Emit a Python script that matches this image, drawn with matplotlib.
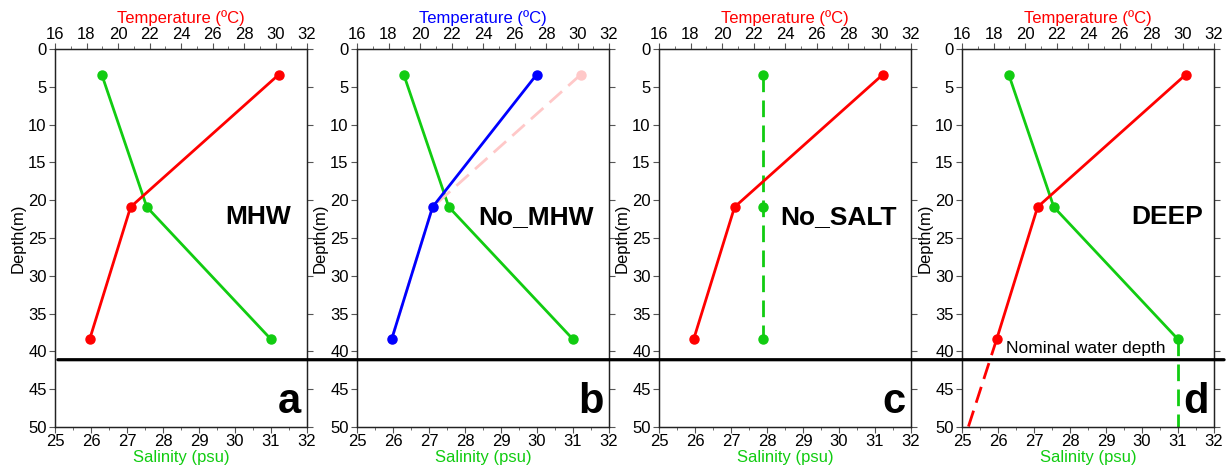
import matplotlib
matplotlib.use("Agg")
import matplotlib.pyplot as plt
from matplotlib.patches import ConnectionPatch
from matplotlib.ticker import MultipleLocator

plt.rcParams['font.family'] = ['Liberation Sans', 'DejaVu Sans']

# data
depth = [3.4, 20.9, 38.4]
temp_mhw = [30.2, 20.8, 18.2]
temp_nomhw = [27.4, 20.8, 18.2]
sal_base = [26.3, 27.55, 31.0]
sal_nosalt = [27.9, 27.9, 27.9]
deep_depth = [38.4, 50.0]
deep_temp = [18.2, 16.4]
deep_sal = [31.0, 31.0]
water_depth = 41.1

panel_names = ['MHW', 'No_MHW', 'No_SALT', 'DEEP']
panel_letters = ['a', 'b', 'c', 'd']
name_xpos = [0.808, 0.712, 0.714, 0.815]

RED = '#ff0000'
GREEN = '#11cc11'
BLUE = '#0000ff'
PINK = '#ffc8c8'

fig = plt.figure(figsize=(12.3, 4.72), dpi=100)
lefts = [55, 357, 659, 962]
W, H = 1230, 472

axes = []
for i in range(4):
    ax = fig.add_axes([lefts[i] / W, 45 / H, 252 / W, 378 / H])
    ax.set_xlim(25, 32)
    ax.set_ylim(50, 0)
    tax = ax.twiny()
    tax.set_xlim(16, 32)

    ax.xaxis.set_major_locator(MultipleLocator(1))
    ax.xaxis.set_minor_locator(MultipleLocator(0.5))
    tax.xaxis.set_major_locator(MultipleLocator(2))
    tax.xaxis.set_minor_locator(MultipleLocator(1))
    ax.yaxis.set_major_locator(MultipleLocator(5))
    ax.tick_params(axis='y', which='both', right=True, direction='out', length=4,
                   labelsize=12, pad=2, color='#555555')
    for a in (ax, tax):
        a.tick_params(axis='x', which='major', direction='out', length=4, labelsize=12,
                      pad=1, color='#555555')
        a.tick_params(axis='x', which='minor', direction='out', length=2, color='#555555')
        for s in a.spines.values():
            s.set_color('#222222')
            s.set_linewidth(0.9)

    ax.set_xlabel('Salinity (psu)', color=GREEN, fontsize=12, labelpad=1)
    tax.set_xlabel('Temperature (ºC)', color=BLUE if i == 1 else RED, fontsize=12, labelpad=3)
    ax.set_ylabel('Depth(m)', fontsize=12, labelpad=2)

    lkw = dict(lw=2.0, marker='o', ms=6.5, solid_capstyle='butt')
    if i == 0:
        tax.plot(temp_mhw, depth, color=RED, **lkw)
        ax.plot(sal_base, depth, color=GREEN, **lkw)
    elif i == 1:
        tax.plot(temp_mhw, depth, color=PINK, dashes=(6, 3), zorder=1, **lkw)
        ax.plot(sal_base, depth, color=GREEN, **lkw)
        tax.plot(temp_nomhw, depth, color=BLUE, zorder=3, **lkw)
    elif i == 2:
        tax.plot(temp_mhw, depth, color=RED, **lkw)
        ax.plot(sal_nosalt, depth, color=GREEN, dashes=(6, 3), **lkw)
    else:
        tax.plot(temp_mhw, depth, color=RED, **lkw)
        ax.plot(sal_base, depth, color=GREEN, **lkw)
        tax.plot(deep_temp, deep_depth, color=RED, lw=2.0, dashes=(6, 3))
        ax.plot(deep_sal, deep_depth, color=GREEN, lw=2.0, dashes=(6, 3))
        ax.text(26.22, 39.6, 'Nominal water depth', fontsize=12.5, va='center', ha='left')

    tax.text(name_xpos[i], 0.555, panel_names[i], transform=ax.transAxes, fontsize=19,
             fontweight='bold', ha='center', va='center')
    tax.text(0.978, 0.012, panel_letters[i], transform=ax.transAxes, fontsize=30,
             fontweight='bold', ha='right', va='bottom')
    axes.append(ax)

# nominal water depth line across all panels
con = ConnectionPatch(xyA=(25.08, water_depth), coordsA=axes[0].transData,
                      xyB=(32.28, water_depth), coordsB=axes[3].transData,
                      color='black', lw=2.3, zorder=10)
fig.add_artist(con)

fig.savefig('out.png', dpi=100)
